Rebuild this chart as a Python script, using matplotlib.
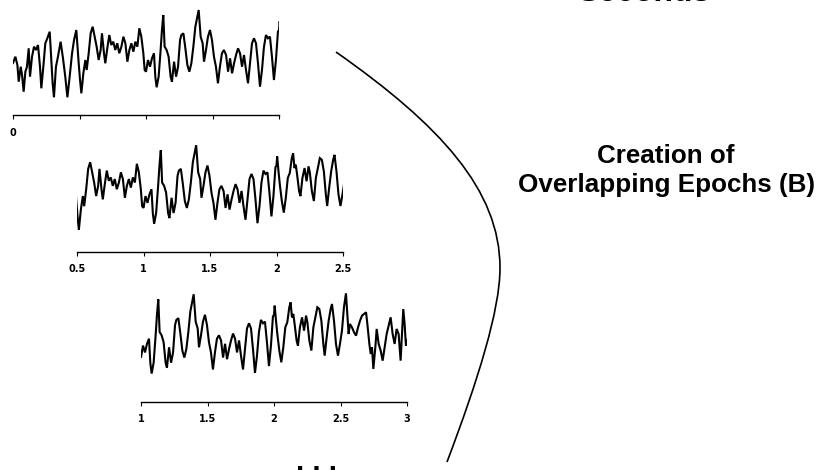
import numpy as np
import matplotlib
matplotlib.use("Agg")
import matplotlib.pyplot as plt
from matplotlib.path import Path
from matplotlib.patches import PathPatch, Rectangle

plt.rcParams['font.family'] = ['Liberation Sans', 'DejaVu Sans']

# ---------------- data ----------------
# one continuous EEG-like signal (seconds, arbitrary amplitude units)
SIGNAL_T = [
    0.000, 0.018, 0.033, 0.043, 0.058, 0.068, 0.080, 0.093, 0.105, 0.118,
    0.128, 0.143, 0.158, 0.173, 0.188, 0.203, 0.213, 0.228, 0.243, 0.258,
    0.276, 0.288, 0.298, 0.308, 0.323, 0.338, 0.358, 0.376, 0.393, 0.409,
    0.426, 0.444, 0.459, 0.476, 0.494, 0.504, 0.514, 0.529, 0.544, 0.554,
    0.569, 0.584, 0.599, 0.614, 0.629, 0.644, 0.659, 0.669, 0.684, 0.694,
    0.709, 0.724, 0.739, 0.754, 0.769, 0.784, 0.799, 0.815, 0.830, 0.845,
    0.860, 0.875, 0.890, 0.905, 0.920, 0.935, 0.950, 0.965, 0.980, 0.990,
    1.000, 1.015, 1.030, 1.045, 1.060, 1.070, 1.080, 1.095, 1.110, 1.120,
    1.130, 1.140, 1.155, 1.170, 1.185, 1.195, 1.211, 1.226, 1.241, 1.256,
    1.266, 1.281, 1.296, 1.311, 1.326, 1.341, 1.356, 1.371, 1.386, 1.396,
    1.411, 1.426, 1.436, 1.451, 1.466, 1.481, 1.496, 1.511, 1.526, 1.541,
    1.556, 1.571, 1.586, 1.602, 1.617, 1.632, 1.647, 1.662, 1.677, 1.692,
    1.707, 1.722, 1.737, 1.752, 1.767, 1.782, 1.797, 1.812, 1.827, 1.842,
    1.857, 1.872, 1.887, 1.902, 1.917, 1.932, 1.947, 1.962, 1.977, 1.992,
    2.000, 2.005, 2.015, 2.025, 2.040, 2.055, 2.070, 2.085, 2.100, 2.115,
    2.125, 2.135, 2.145, 2.155, 2.170, 2.180, 2.195, 2.211, 2.226, 2.241,
    2.251, 2.266, 2.281, 2.296, 2.311, 2.326, 2.341, 2.356, 2.371, 2.381,
    2.396, 2.411, 2.426, 2.436, 2.451, 2.466, 2.481, 2.496, 2.511, 2.526,
    2.541, 2.551, 2.561, 2.571, 2.586, 2.602, 2.617, 2.632, 2.647, 2.662,
    2.677, 2.692, 2.702, 2.717, 2.727, 2.737, 2.747, 2.762, 2.772, 2.787,
    2.802, 2.817, 2.832, 2.847, 2.862, 2.877, 2.892, 2.907, 2.922, 2.937,
    2.952, 2.962, 2.972, 2.982, 2.992, 3.000,
]
SIGNAL_V = [
    -11.0, -4.7, -13.0, -29.7, -14.7, -23.0, -39.7, -19.7, -14.7, 3.7,
    -24.7, -4.7, 5.3, 2.0, 7.0, -14.7, -36.3, -14.7, 8.7, 13.7,
    20.3, -8.0, -31.3, -45.3, -14.7, -4.7, 10.3, -6.3, -24.7, -45.3,
    -24.7, -1.3, 12.0, 22.0, -11.3, -28.0, -41.3, -21.3, -8.0, -18.0,
    -1.3, 18.7, 25.3, 15.3, 5.3, -8.0, 2.0, 18.7, -1.3, -11.3,
    3.7, 17.0, 7.0, 10.3, 2.0, 8.7, -1.3, 5.3, 15.3, 8.7,
    -9.7, 2.0, 8.7, 0.3, 10.3, 5.3, 23.7, 15.3, -1.3, -18.0,
    -19.7, -8.0, -14.7, -6.3, -1.3, -24.7, -35.3, -24.7, 2.0, 22.0,
    37.0, 5.3, 2.0, -4.7, -24.7, -29.7, -9.7, -24.7, -14.7, 12.0,
    17.0, 18.7, 3.7, -13.0, -19.7, -11.3, 5.3, 25.3, 35.3, 42.0,
    15.3, 8.7, -9.7, 2.0, 15.3, 22.0, 12.0, -4.7, -14.7, -31.3,
    -14.7, -1.3, 2.0, -3.0, -19.7, -6.3, -21.3, -11.3, -3.0, 3.7,
    -1.3, -14.7, -3.0, -18.0, -31.3, -11.3, 8.7, 13.7, 8.7, -11.3,
    -34.7, -18.0, 5.3, 17.0, 13.7, 15.3, -4.7, -28.0, -8.0, 20.3,
    22.0, 30.9, 16.3, 3.3, -12.9, -24.3, -9.7, 9.8, 14.7, 29.3,
    34.1, 19.5, 22.8, 13.0, -3.2, -8.1, 9.8, 19.5, 6.5, 21.2,
    14.7, -3.2, -12.9, 9.8, 19.5, 29.3, 27.6, 16.3, -6.4, -17.8,
    0.1, 16.3, 27.6, 32.5, 16.3, -6.4, -17.8, -6.4, 6.5, 29.3,
    42.9, 22.8, 3.3, 13.0, 9.8, 4.9, 1.7, 9.8, 16.3, 21.2,
    22.8, 24.4, 13.0, -6.4, -16.2, -9.7, -30.8, -9.7, 8.2, -6.4,
    -12.9, -22.7, -9.7, 3.3, 11.4, 19.5, 3.3, -6.4, 8.2, 3.3,
    -22.7, 3.3, 27.6, 13.0, -8.1, -3.2,
]

# overlapping epochs: start (s) and length (s)
WINDOW_STARTS = [0.0, 0.5, 1.0]
WINDOW_LEN = 2.0
TICKS = [
    [0.0, 0.5, 1.0, 1.5, 2.0],
    [0.5, 1.0, 1.5, 2.0, 2.5],
    [1.0, 1.5, 2.0, 2.5, 3.0],
]
TICK_LABELS = [
    ['0', '0.5', '1', '1.5', '2'],
    ['0.5', '1', '1.5', '2', '2.5'],
    ['1', '1.5', '2', '2.5', '3'],
]

# ---------------- layout ----------------
W, H = 823, 470
fig = plt.figure(figsize=(W / 100, H / 100), dpi=100)


def box(l, t, r, b):
    return [l / W, 1 - b / H, (r - l) / W, (b - t) / H]


PANEL_BOXES = [(13, 0, 279, 115), (77, 135, 343, 252), (141, 284, 407, 402)]

for start, ticks, labels, bx in zip(WINDOW_STARTS, TICKS, TICK_LABELS, PANEL_BOXES):
    ax = fig.add_axes(box(*bx))
    ax.plot(SIGNAL_T, SIGNAL_V, color='black', lw=1.5, solid_joinstyle='miter')
    ax.set_xlim(start, start + WINDOW_LEN)
    ax.set_ylim(-63, 52)
    ax.set_xticks(ticks)
    ax.set_xticklabels(labels)
    ax.set_yticks([])
    for s in ('top', 'right', 'left'):
        ax.spines[s].set_visible(False)
    ax.spines['bottom'].set_linewidth(1.0)
    ax.tick_params(axis='x', direction='out', length=3, width=0.8, pad=6.0,
                   labelsize=7)
    for lab in ax.get_xticklabels():
        lab.set_fontweight('bold')
        lab.set_family('DejaVu Sans')
    ax.patch.set_alpha(0)

# the middle panel hides most of the first panel's tick labels
fig.add_artist(Rectangle((68 / W, 1 - 142 / H), (350 - 68) / W, 16 / H,
                         transform=fig.transFigure, facecolor='white',
                         edgecolor='none', zorder=0.5))

# bracket curve
pts = [(336, 52), (440, 125), (500, 190), (500, 268),
       (500, 310), (478, 380), (447, 462)]
codes = [Path.MOVETO] + [Path.CURVE4] * 6
path = Path([(x / W, 1 - y / H) for x, y in pts], codes)
fig.add_artist(PathPatch(path, transform=fig.transFigure, fill=False,
                         edgecolor='black', lw=1.2, zorder=2))

# texts
fig.text(666 / W, 1 - 162.7 / H, 'Creation of', ha='center', va='baseline',
         fontsize=18.7, fontweight='bold')
fig.text(667 / W, 1 - 191.7 / H, 'Overlapping Epochs (B)', ha='center',
         va='baseline', fontsize=18.7, fontweight='bold')
fig.text(644 / W, 1 - 1.3 / H, 'Seconds', ha='center', va='baseline',
         fontsize=23, fontweight='bold')
fig.text(316 / W, 1 - 469.5 / H, '. . .', ha='center', va='baseline',
         fontsize=21, fontweight='bold')

fig.savefig('out.png', dpi=100)
